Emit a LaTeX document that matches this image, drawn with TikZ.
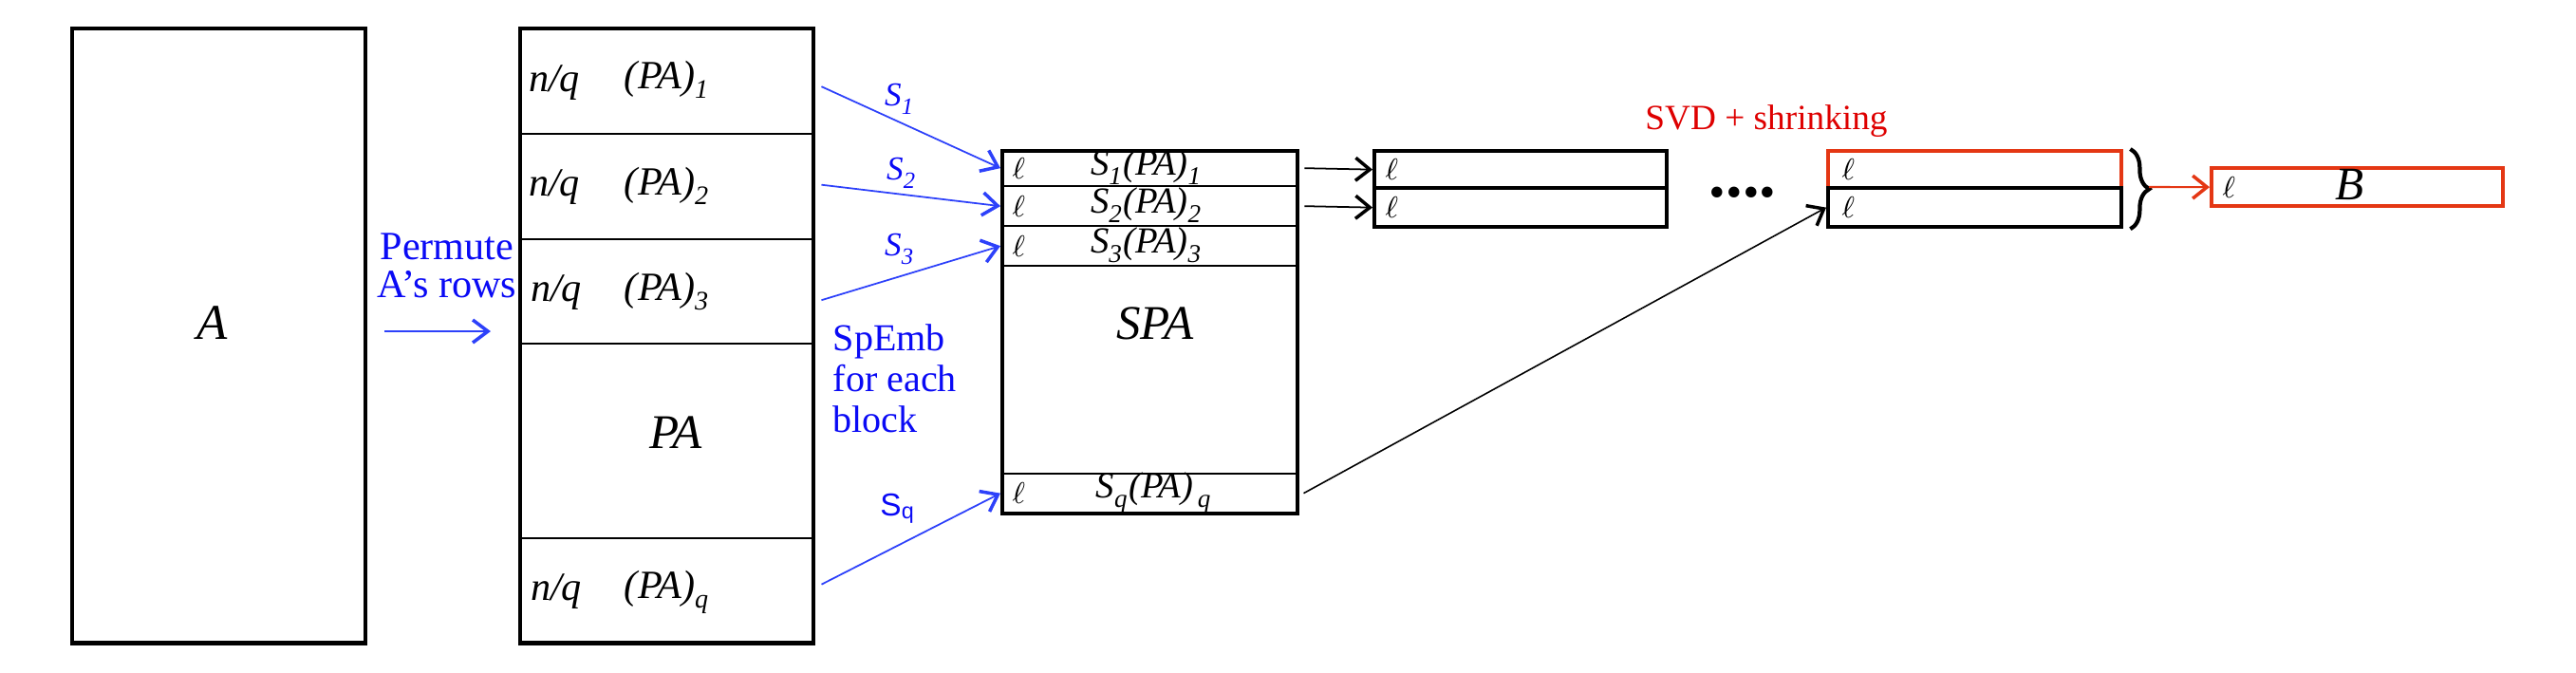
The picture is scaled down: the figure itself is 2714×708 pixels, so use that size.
\documentclass[tikz,border=0pt]{standalone}
\usepackage{fontspec}
\setmainfont{Liberation Serif}
\setsansfont{Liberation Sans}
\usetikzlibrary{arrows.meta,decorations.pathreplacing}
\definecolor{tblue}{RGB}{10,10,245}
\definecolor{ablue}{RGB}{45,65,250}
\definecolor{tred}{RGB}{222,0,0}
\definecolor{bred}{RGB}{228,55,20}
\newcommand\myfs[1]{\fontsize{#1}{#1}\selectfont}
\newcommand\mysub[1]{\raisebox{-1.2pt}{\textsubscript{#1}}}
\begin{document}
\begin{tikzpicture}[x=0.01cm,y=-0.01cm,
  frame/.style={draw, line width=1.2pt, rectangle, inner sep=0pt, anchor=north west},
  band/.style={draw, line width=0.65pt, rectangle, inner sep=0pt, anchor=north west},
  lbl/.style={inner sep=0pt},
  bigm/.style={lbl, anchor=base, font=\itshape\myfs{14.5}},
  midm/.style={lbl, anchor=base, font=\itshape\myfs{12}},
  spm/.style={lbl, anchor=base, font=\itshape\myfs{11}},
  ell/.style={lbl, anchor=west, font=\myfs{9.5}},
  slab/.style={lbl, anchor=base, text=tblue, font=\itshape\myfs{10}},
  barrow/.style={draw=ablue, line width=0.5pt, -{Straight Barb[length=1.6mm,width=2.4mm,line width=1pt]}},
  karrow/.style={draw=black, line width=0.5pt, -{Straight Barb[length=1.5mm,width=2.4mm,line width=1pt]}},
  rarrow/.style={draw=bred, line width=0.6pt, -{Straight Barb[length=1.5mm,width=2.4mm,line width=1pt]}},
]
\useasboundingbox (0,0) rectangle (2714,708);

% matrix A
\node[frame, minimum width=3.09cm, minimum height=6.47cm] (A) at (74,28) {};
\node[bigm, font=\itshape\myfs{15}] (labA) at (224,357) {A};

% matrix PA
\node[band, minimum width=3.09cm, minimum height=1.12cm] (pa1) at (546,28) {};
\node[band, minimum width=3.09cm, minimum height=1.11cm] (pa2) at (546,140) {};
\node[band, minimum width=3.09cm, minimum height=1.10cm] (pa3) at (546,251) {};
\node[band, minimum width=3.09cm, minimum height=2.05cm] (pam) at (546,361) {};
\node[band, minimum width=3.09cm, minimum height=1.09cm] (paq) at (546,566) {};
\node[frame, minimum width=3.09cm, minimum height=6.47cm] (PA) at (546,28) {};

\node[midm] (nq1) at (584,96) {n/q};
\node[midm] (pl1) at (703,93) {(PA)\mysub{1}};
\node[midm] (nq2) at (584,206) {n/q};
\node[midm] (pl2) at (703,205) {(PA)\mysub{2}};
\node[midm] (nq3) at (586,317) {n/q};
\node[midm] (pl3) at (703,316) {(PA)\mysub{3}};
\node[midm] (nqq) at (586,632) {n/q};
\node[midm] (plq) at (703,630) {(PA)\mysub{q}};
\node[bigm] (labPA) at (712,472) {PA};

% permute
\node[lbl, text=tblue, align=center, font=\myfs{12}] (perm) at (471,280) {Permute\\[-0.5pt]A’s rows};
\coordinate (pL) at (405,349);
\coordinate (pR) at (517,349);
\draw[barrow] (pL) -- (pR);

% SPA
\node[band, minimum width=3.11cm, minimum height=0.38cm] (s1) at (1054,157) {};
\node[band, minimum width=3.11cm, minimum height=0.42cm] (s2) at (1054,195) {};
\node[band, minimum width=3.11cm, minimum height=0.42cm] (s3) at (1054,237) {};
\node[band, minimum width=3.11cm, minimum height=2.19cm] (sm) at (1054,279) {};
\node[band, minimum width=3.11cm, minimum height=0.41cm] (sq) at (1054,498) {};
\node[frame, minimum width=3.11cm, minimum height=3.82cm] (SPA) at (1054,157) {};

\node[ell] (e1) at ([xshift=0.12cm]s1.west) {$\ell$};
\node[ell] (e2) at ([xshift=0.12cm]s2.west) {$\ell$};
\node[ell] (e3) at ([xshift=0.12cm]s3.west) {$\ell$};
\node[ell] (eq) at ([xshift=0.12cm]sq.west) {$\ell$};
\node[spm] (t1) at (1208,184) {S\mysub{1}(PA)\mysub{1}};
\node[spm] (t2) at (1208,224) {S\mysub{2}(PA)\mysub{2}};
\node[spm] (t3) at (1208,266) {S\mysub{3}(PA)\mysub{3}};
\node[spm] (tq) at (1216,524) {S\mysub{q}(PA)\mysub{\,q}};
\node[bigm] (labSPA) at (1217,357) {SPA};

% sketch arrows
\draw[barrow] ([shift={(0.08cm,-0.06cm)}]pa1.east) -- (s1.west);
\draw[barrow] ([shift={(0.08cm,0.02cm)}]pa2.east) -- (s2.west);
\draw[barrow] ([shift={(0.08cm,-0.09cm)}]pa3.east) -- (s3.west);
\draw[barrow] ([shift={(0.08cm,0.06cm)}]paq.east) -- (sq.west);
\node[slab] (S1) at (948,111) {S\mysub{1}};
\node[slab] (S2) at (950,189) {S\mysub{2}};
\node[slab] (S3) at (948,269) {S\mysub{3}};
\node[slab, font=\sffamily\myfs{9.5}] (Sq) at (946,543) {S\textsubscript{q}};
\node[lbl, anchor=west, text=tblue, align=left, font=\myfs{11.4}] (spemb) at (877,399) {SpEmb\\[0.8pt]for each\\[0.8pt]block};

% second stack
\node[frame, minimum width=3.08cm, minimum height=0.39cm] (b2a) at (1446,157) {};
\node[frame, minimum width=3.08cm, minimum height=0.41cm] (b2b) at (1446,196) {};
\node[ell] (f1) at ([xshift=0.13cm]b2a.west) {$\ell$};
\node[ell] (f2) at ([xshift=0.13cm]b2b.west) {$\ell$};
\draw[karrow] ([xshift=0.07cm]s1.east) -- (b2a.west);
\draw[karrow] ([xshift=0.07cm]s2.east) -- (b2b.west);

\node[lbl, font=\bfseries\myfs{20}] (dots) at (1836,203) {....};

% third stack
\node[frame, draw=bred, minimum width=3.09cm, minimum height=0.39cm] (b3a) at (1924,157) {};
\node[frame, minimum width=3.09cm, minimum height=0.41cm] (b3b) at (1924,196) {};
\node[ell] (g1) at ([xshift=0.16cm]b3a.west) {$\ell$};
\node[ell] (g2) at ([xshift=0.16cm]b3b.west) {$\ell$};
\draw[karrow, line width=0.45pt] ([xshift=0.06cm]sq.east) -- (b3b.west);
\node[lbl, text=tred, font=\myfs{10.6}] (svd) at (1861,128) {SVD + shrinking};

% brace and B
\draw[decorate, decoration={brace, amplitude=0.2cm}, line width=1.2pt]
  ([xshift=0.07cm]b3a.north east) -- ([xshift=0.07cm]b3b.south east);
\coordinate (bt) at (2264,197);
\node[frame, draw=bred, minimum width=3.07cm, minimum height=0.40cm] (B) at (2328,175) {};
\draw[rarrow] (bt) -- (B.west);
\node[ell] (h1) at ([xshift=0.13cm]B.west) {$\ell$};
\node[bigm, font=\itshape\myfs{14}] (labB) at (2476,210) {B};
\end{tikzpicture}
\end{document}
